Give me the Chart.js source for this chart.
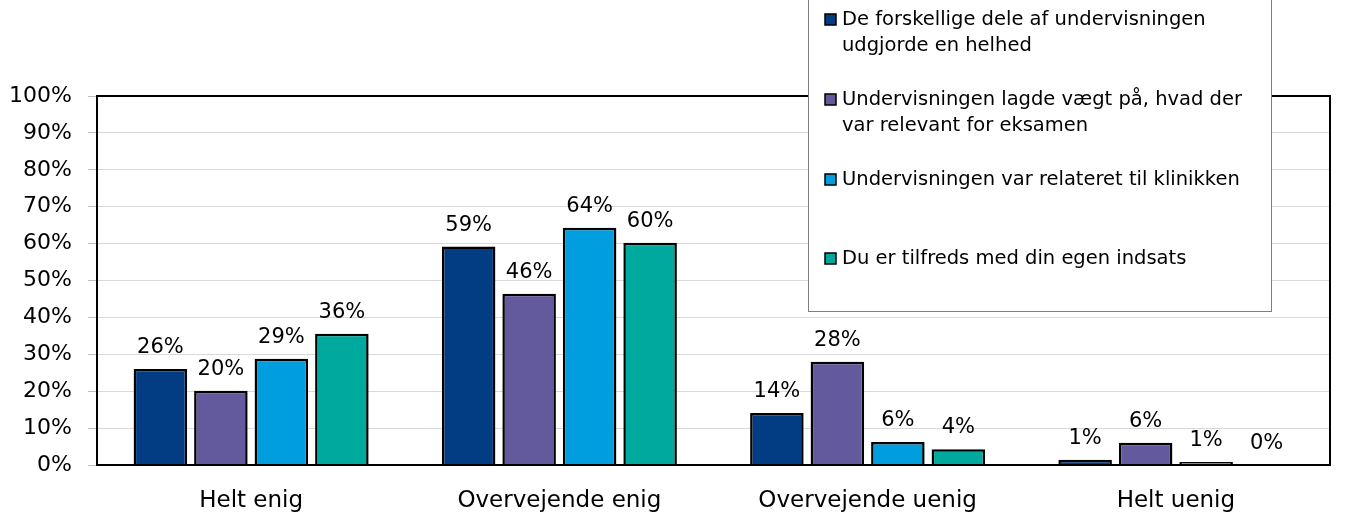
<!DOCTYPE html>
<html>
<head>
<meta charset="utf-8">
<script src="https://cdn.jsdelivr.net/npm/chart.js@4/dist/chart.umd.min.js"></script>
<style>
  html, body { margin: 0; padding: 0; background: #fff; }
  #wrap { width: 1349px; height: 515px; position: relative; }
</style>
</head>
<body>
<div id="wrap"><canvas id="c" width="1349" height="515"></canvas></div>
<script>
const categories = ['Helt enig', 'Overvejende enig', 'Overvejende uenig', 'Helt uenig'];
const seriesNames = [
  'De forskellige dele af undervisningen udgjorde en helhed',
  'Undervisningen lagde vægt på, hvad der var relevant for eksamen',
  'Undervisningen var relateret til klinikken',
  'Du er tilfreds med din egen indsats'
];
const seriesA = [26.0, 59.2, 14.1, 1.4];
const seriesB = [20.1, 46.4, 28.0, 6.0];
const seriesC = [28.8, 64.3, 6.2, 0.8];
const seriesD = [35.6, 60.2, 4.3, 0.0];
const seriesColors = ['#023c82', '#63599d', '#019edf', '#00a99d'];
const yTicks = [0, 10, 20, 30, 40, 50, 60, 70, 80, 90, 100];

const FONT = '"DejaVu Sans", sans-serif';

const plotBorder = {
  id: 'plotBorder',
  afterDatasetsDraw(chart) {
    const { ctx, chartArea: a } = chart;
    ctx.save();
    ctx.strokeStyle = '#000';
    ctx.lineWidth = 2;
    ctx.strokeRect(a.left, a.top, a.right - a.left, a.bottom - a.top);
    ctx.restore();
  }
};

const dataLabels = {
  id: 'dataLabels',
  afterDatasetsDraw(chart) {
    const { ctx } = chart;
    ctx.save();
    ctx.font = '21px ' + FONT;
    ctx.fillStyle = '#000';
    ctx.textAlign = 'center';
    ctx.textBaseline = 'alphabetic';
    chart.data.datasets.forEach((ds, i) => {
      const meta = chart.getDatasetMeta(i);
      meta.data.forEach((bar, j) => {
        ctx.fillText(Math.round(ds.data[j]) + '%', bar.x, bar.y - 16);
      });
    });
    ctx.restore();
  }
};

const boxLegend = {
  id: 'boxLegend',
  afterDraw(chart) {
    const { ctx } = chart;
    const bx = 808, by = -2, bw = 463, bh = 313;
    ctx.save();
    ctx.fillStyle = '#fff';
    ctx.fillRect(bx, by, bw, bh);
    ctx.strokeStyle = '#7f7f7f';
    ctx.lineWidth = 1;
    ctx.strokeRect(bx + 0.5, by + 0.5, bw, bh);
    ctx.font = '19.5px ' + FONT;
    ctx.textBaseline = 'middle';
    ctx.textAlign = 'left';
    const maxW = 422;
    const itemY = [20, 100, 180, 259];
    chart.data.datasets.forEach((ds, i) => {
      const words = ds.label.split(' ');
      const lines = [];
      let cur = '';
      words.forEach(w => {
        const t = cur ? cur + ' ' + w : w;
        if (ctx.measureText(t).width > maxW && cur) { lines.push(cur); cur = w; }
        else cur = t;
      });
      if (cur) lines.push(cur);
      const y0 = itemY[i];
      ctx.fillStyle = ds.backgroundColor;
      ctx.fillRect(825, y0 - 6, 11, 11);
      ctx.strokeStyle = '#000';
      ctx.lineWidth = 1.5;
      ctx.strokeRect(825, y0 - 6, 11, 11);
      ctx.fillStyle = '#000';
      lines.forEach((ln, k) => ctx.fillText(ln, 842, y0 + k * 26));
    });
    ctx.restore();
  }
};

const datasets = [seriesA, seriesB, seriesC, seriesD].map((d, i) => ({
  label: seriesNames[i],
  data: d,
  backgroundColor: seriesColors[i],
  borderColor: '#000',
  borderWidth: 2.5,
  borderSkipped: 'bottom',
  categoryPercentage: 0.785,
  barPercentage: 0.885
}));

new Chart(document.getElementById('c'), {
  type: 'bar',
  data: { labels: categories, datasets },
  options: {
    responsive: false,
    animation: false,
    devicePixelRatio: 1,
    layout: { padding: { top: 96, right: 19, left: 0, bottom: 0 } },
    plugins: { legend: { display: false }, tooltip: { enabled: false } },
    scales: {
      x: {
        grid: { display: false, drawTicks: false },
        border: { color: '#000', width: 2 },
        ticks: { color: '#000', font: { family: FONT, size: 23 }, padding: 22 },
        afterFit(s) { s.height = 50; }
      },
      y: {
        min: 0, max: 100,
        afterBuildTicks(s) { s.ticks = yTicks.map(v => ({ value: v })); },
        grid: { color: '#d9d9d9', lineWidth: 1, tickLength: 9, tickColor: '#bfbfbf' },
        border: { color: '#000', width: 2 },
        ticks: { color: '#000', font: { family: FONT, size: 22 }, padding: 16, callback: v => v + '%' },
        afterFit(s) { s.width = 97; }
      }
    }
  },
  plugins: [plotBorder, dataLabels, boxLegend]
});
</script>
</body>
</html>
